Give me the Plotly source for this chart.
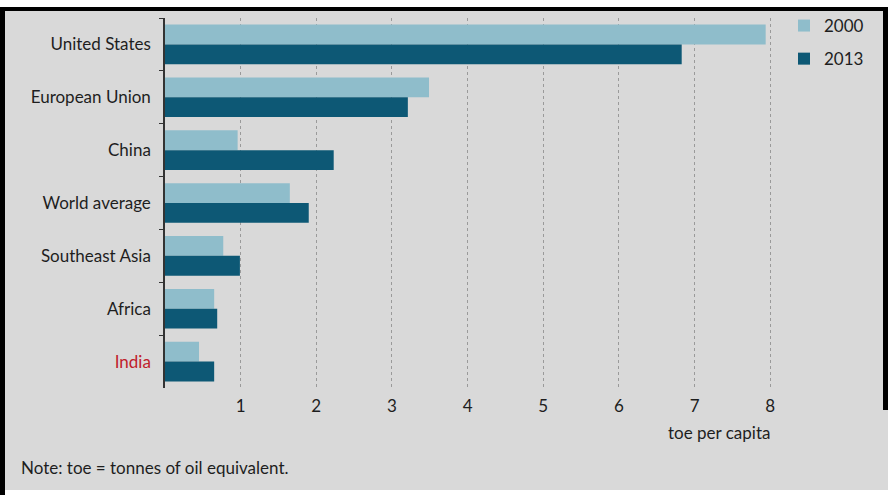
import plotly.graph_objects as go

categories = ["United States", "European Union", "China", "World average",
              "Southeast Asia", "Africa", "India"]
values_2000 = [7.94, 3.49, 0.96, 1.65, 0.77, 0.65, 0.45]
values_2013 = [6.83, 3.21, 2.23, 1.90, 0.99, 0.69, 0.65]
series_names = ["2000", "2013"]
x_ticks = [1, 2, 3, 4, 5, 6, 7, 8]

W, H = 888, 495
L, R, T, B = 165, 774, 18, 388
FONT = "Lato"
TXT = "#1e1e1e"
BG = "#d9d9d9"
FS = 17

def px(x):
    return x / W

def py(y):
    return (H - y) / H

tick_text = [c if c != "India" else "<span style='color:#c0202b'>India</span>" for c in categories]

fig = go.Figure()
fig.add_trace(go.Bar(y=categories, x=values_2000, name=series_names[0], orientation="h",
                     marker=dict(color="#8fbdcb", line=dict(width=0)), legendgroup="a"))
fig.add_trace(go.Bar(y=categories, x=values_2013, name=series_names[1], orientation="h",
                     marker=dict(color="#0d5875", line=dict(width=0)), legendgroup="b"))

shapes = [
    dict(type="rect", xref="paper", yref="paper", x0=px(0), x1=px(W), y0=py(0), y1=py(7),
         fillcolor="white", line_width=0, layer="above"),
    dict(type="rect", xref="paper", yref="paper", x0=px(0), x1=px(W), y0=py(7), y1=py(11),
         fillcolor="black", line_width=0, layer="above"),
    dict(type="rect", xref="paper", yref="paper", x0=px(0), x1=px(5), y0=py(7), y1=py(H),
         fillcolor="black", line_width=0, layer="above"),
    dict(type="rect", xref="paper", yref="paper", x0=px(883), x1=px(W), y0=py(7), y1=py(410),
         fillcolor="black", line_width=0, layer="above"),
    dict(type="rect", xref="paper", yref="paper", x0=px(5), x1=px(W), y0=py(490), y1=py(H),
         fillcolor="white", line_width=0, layer="above"),
]

fig.update_layout(
    width=W, height=H,
    margin=dict(l=0, r=0, t=0, b=0, pad=0),
    paper_bgcolor=BG, plot_bgcolor=BG,
    barmode="group", bargap=0.25, bargroupgap=0,
    font=dict(family=FONT, size=FS, color=TXT),
    showlegend=True,
    legend=dict(x=px(784), y=py(8), xanchor="left", yanchor="top",
                traceorder="grouped", tracegroupgap=8, bgcolor="rgba(0,0,0,0)",
                font=dict(family=FONT, size=FS, color=TXT), itemwidth=30),
    shapes=shapes,
    annotations=[
        dict(text="toe per capita", xref="paper", yref="paper", x=px(772), y=py(432),
             xanchor="right", yanchor="middle", showarrow=False,
             font=dict(family=FONT, size=FS, color=TXT)),
        dict(text="Note: toe = tonnes of oil equivalent.", xref="paper", yref="paper",
             x=px(19), y=py(467), xanchor="left", yanchor="middle", showarrow=False,
             font=dict(family=FONT, size=FS, color=TXT)),
    ],
)

fig.update_xaxes(domain=[px(L), px(R)], range=[0, 8.05], tickvals=x_ticks,
                 ticktext=[str(v) for v in x_ticks], automargin=False,
                 showgrid=True, gridcolor="#9a9a9a", griddash="dot", gridwidth=1,
                 zeroline=False, showline=False, ticks="", ticklabelstandoff=6,
                 tickfont=dict(family=FONT, size=FS, color=TXT))
fig.update_yaxes(domain=[py(B), py(T)], categoryorder="array", categoryarray=categories,
                 autorange="reversed", tickvals=categories, ticktext=tick_text, automargin=False,
                 showline=True, linecolor="#333333", linewidth=1.5,
                 ticks="outside", tickson="boundaries", ticklen=4, tickcolor="#333333",
                 showgrid=False, zeroline=False, ticklabelstandoff=9,
                 tickfont=dict(family=FONT, size=FS, color=TXT))

fig.write_html("out.html", config={"displayModeBar": False},
               post_script="document.body.style.margin='0';document.body.style.padding='0';")
